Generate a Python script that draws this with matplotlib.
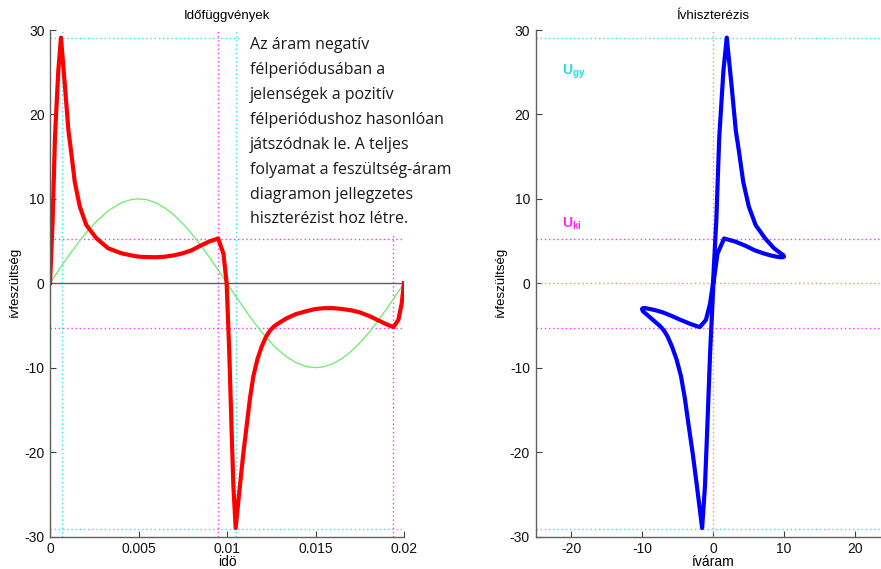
import matplotlib
matplotlib.use("Agg")
import matplotlib.pyplot as plt
from matplotlib.patches import Rectangle

# ---------------- data ----------------
time_s = [0, 0.00015, 0.00028, 0.00047, 0.00062, 0.00085, 0.00104, 0.00117, 0.0014, 0.00168,
          0.00205, 0.00262, 0.00328, 0.00403, 0.0046, 0.005, 0.0055, 0.006, 0.0065,
          0.007, 0.0075, 0.008, 0.0085, 0.009, 0.0095, 0.0098, 0.00998, 0.01013, 0.01027,
          0.01036, 0.01049, 0.01073, 0.01092, 0.01111, 0.0113, 0.01149, 0.01172, 0.01196, 0.0122,
          0.01243, 0.01266, 0.0129, 0.01337, 0.0139, 0.0145, 0.015, 0.0155, 0.016, 0.0165,
          0.017, 0.0175, 0.018, 0.0185, 0.019, 0.0194, 0.01968, 0.01987, 0.02]
arc_voltage = [0, 7.5, 17.3, 25.2, 29.1, 23.2, 18.1, 16.0, 12.0, 9.1,
               6.9, 5.33, 4.15, 3.55, 3.3, 3.15, 3.1, 3.08, 3.15,
               3.3, 3.55, 3.9, 4.45, 4.95, 5.3, 3.5, 0, -8.3, -18.1,
               -24.0, -29.0, -24.0, -20.2, -16.9, -13.6, -11.0, -9.0, -7.5, -6.35,
               -5.6, -5.1, -4.75, -4.15, -3.65, -3.3, -3.05, -2.95, -2.95, -3.05,
               -3.2, -3.45, -3.85, -4.35, -4.85, -5.2, -4.35, -2.4, 0]
arc_current = [0, 0.47, 0.88, 1.47, 1.94, 2.64, 3.21, 3.59, 4.26, 5.04,
               6.00, 7.33, 8.58, 9.54, 9.92, 10.0, 9.88, 9.51, 8.91,
               8.09, 7.07, 5.88, 4.54, 3.09, 1.56, 0.63, 0.06, -0.41, -0.85,
               -1.13, -1.53, -2.27, -2.85, -3.42, -3.97, -4.51, -5.14, -5.78, -6.37,
               -6.91, -7.42, -7.90, -8.72, -9.41, -9.88, -10.0, -9.88, -9.51, -8.91,
               -8.09, -7.07, -5.88, -4.54, -3.09, -1.87, -1.00, -0.41, 0]

u_ignition = 29.1      # U_gy
u_extinction = 5.3     # U_ki
t_peak = [0.00068, 0.0105]     # times of ignition peaks
t_ext = [0.0095, 0.0194]       # times of extinction peaks

left_title = "Időfüggvények"
right_title = "Ívhiszterézis"
left_xlabel = "idö"
right_xlabel = "íváram"
ylabel = "ívfeszültség"
x_ticks_left = [0, 0.005, 0.01, 0.015, 0.02]
x_ticklabels_left = ["0", "0.005", "0.01", "0.015", "0.02"]
y_ticks = [-30, -20, -10, 0, 10, 20, 30]
x_ticks_right = [-20, -10, 0, 10, 20]
note_lines = ["Az áram negatív", "félperiódusában a", "jelenségek a pozitív",
              "félperiódushoz hasonlóan", "játszódnak le. A teljes",
              "folyamat a feszültség-áram", "diagramon jellegzetes",
              "hiszterézist hoz létre."]

# ---------------- figure ----------------
W, H = 881, 569
fig = plt.figure(figsize=(W / 100, H / 100), dpi=100)
plt.rcParams['font.family'] = ['Liberation Sans', 'DejaVu Sans']
plt.rcParams['mathtext.fontset'] = 'custom'
plt.rcParams['mathtext.bf'] = 'Liberation Sans:bold'
plt.rcParams['mathtext.rm'] = 'Liberation Sans'

def px_axes(x0, x1, ytop, ybot):
    return [x0 / W, (H - ybot) / H, (x1 - x0) / W, (ybot - ytop) / H]

ax1 = fig.add_axes(px_axes(50, 404, 30, 536.5))
ax2 = fig.add_axes(px_axes(535.5, 890.5, 30, 536.5))

dot = (0, (1, 2))
cyan = '#33e6e6'
mag = '#ff33ff'
orange = '#ff9933'

for ax in (ax1, ax2):
    for s in ('top', 'right'):
        ax.spines[s].set_visible(False)
    for s in ('left', 'bottom'):
        ax.spines[s].set_color('#606060')
        ax.spines[s].set_linewidth(1.0)
    ax.tick_params(direction='in', length=4, width=0.8, color='#404040',
                   labelsize=10, labelcolor='#111111', pad=4)
    ax.set_ylim(-30, 30)
    ax.set_yticks(y_ticks)
    ax.set_yticklabels([str(v) for v in y_ticks])
    ax.set_ylabel(ylabel, fontsize=9.5, labelpad=2)

# ---- left: time functions ----
ax1.set_xlim(0, 0.02)
ax1.set_xticks(x_ticks_left)
ax1.set_xticklabels(x_ticklabels_left)
ax1.set_title(left_title, fontsize=9.5, pad=8)
ax1.set_xlabel(left_xlabel, fontsize=10, labelpad=-1)

for yv in (u_ignition, -u_ignition):
    ax1.axhline(yv, color=cyan, ls=dot, lw=1)
for yv in (u_extinction, -u_extinction):
    ax1.axhline(yv, color=mag, ls=dot, lw=1)
for tv in t_peak:
    ax1.axvline(tv, color=cyan, ls=dot, lw=1)
for tv in t_ext:
    ax1.axvline(tv, color=mag, ls=dot, lw=1)
ax1.axhline(0, color='#606060', lw=1)
ax1.plot(time_s, arc_current, color='#66ee66', lw=0.9)
ax1.plot(time_s, arc_voltage, color='#ff0000', lw=3, solid_joinstyle='round')

# ---- right: hysteresis ----
ax2.set_xlim(-25, 25)
ax2.set_xticks(x_ticks_right)
ax2.set_xticklabels([str(v) for v in x_ticks_right])
ax2.set_title(right_title, fontsize=9.5, pad=8)
ax2.set_xlabel(right_xlabel, fontsize=10, labelpad=-1)
for yv in (u_ignition, -u_ignition):
    ax2.axhline(yv, color=cyan, ls=dot, lw=1)
for yv in (u_extinction, -u_extinction):
    ax2.axhline(yv, color=mag, ls=dot, lw=1)
ax2.axhline(0, color=orange, ls=dot, lw=1)
ax2.axvline(0, color=orange, ls=dot, lw=1)
ax2.plot(arc_current, arc_voltage, color='#0000ff', lw=3, solid_joinstyle='round')
ax2.text(-21.3, 25.0, r'$\mathbf{U}_{\mathbf{gy}}$', color='#22dddd', fontsize=10,
         va='center', ha='left')
ax2.text(-21.3, 7.1, r'$\mathbf{U}_{\mathbf{ki}}$', color='#ff22ff', fontsize=10,
         va='center', ha='left')

# ---- explanatory note with white background ----
fig.add_artist(Rectangle((240 / W, (H - 236) / H), 210 / W, 210 / H,
                         transform=fig.transFigure, facecolor='white',
                         edgecolor='none', zorder=5))
y_px = [45, 70, 95, 120, 145, 170, 195, 219]
for line, yp in zip(note_lines, y_px):
    fig.text(250 / W, (H - yp) / H, line, fontsize=11.5, family=['Open Sans', 'DejaVu Sans'],
             color='#1a1a1a', va='center', ha='left', zorder=6)

fig.savefig('out.png', dpi=100)
